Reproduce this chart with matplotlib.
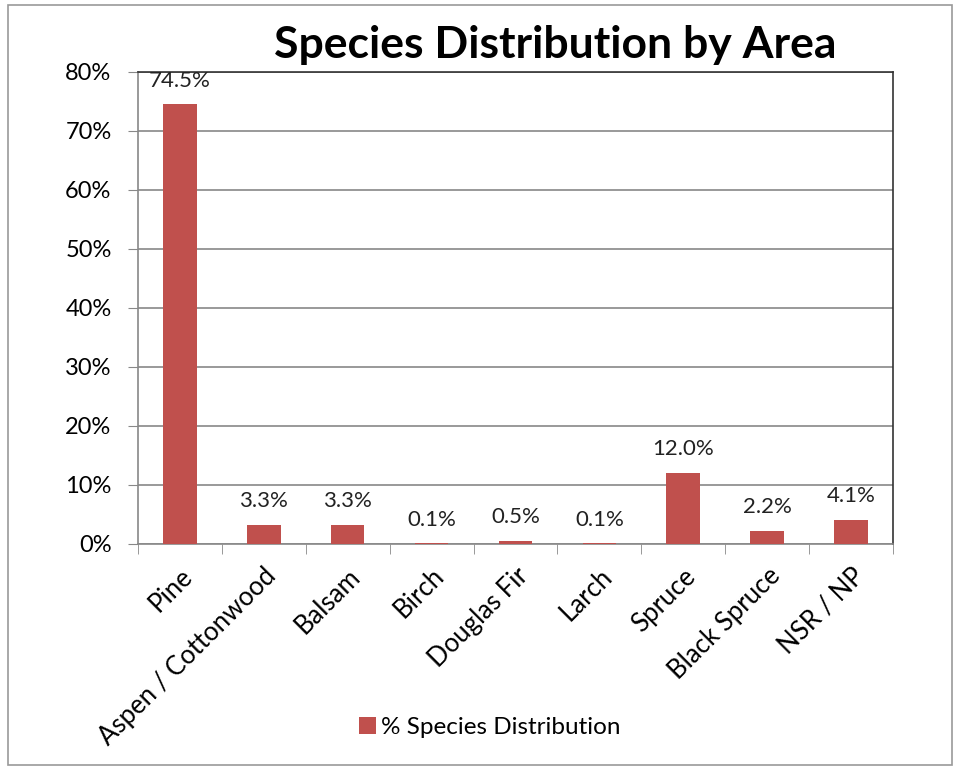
import matplotlib.pyplot as plt
from matplotlib.patches import Rectangle
import numpy as np

# datos
especies = ['Pine', 'Aspen / Cottonwood', 'Balsam', 'Birch', 'Douglas Fir',
            'Larch', 'Spruce', 'Black Spruce', 'NSR / NP']
porcentajes = [74.5, 3.3, 3.3, 0.1, 0.5, 0.1, 12.0, 2.2, 4.1]
yticks = [0, 10, 20, 30, 40, 50, 60, 70, 80]

plt.rcParams['font.family'] = ['Lato', 'DejaVu Sans']

fig = plt.figure(figsize=(9.6, 7.69), dpi=100)
ax = fig.add_axes([0.1437, 0.2926, 0.7865, 0.6138])

x = np.arange(len(especies))
ax.bar(x, porcentajes, width=0.4, color='#C0504D', zorder=3)

for xi, v in zip(x, porcentajes):
    ax.annotate(f'{v:.1f}%', (xi, v), xytext=(0, 10), textcoords='offset points',
                ha='center', va='bottom', fontsize=16, color='#222222')

ax.set_xlim(-0.5, len(especies) - 0.5)
ax.set_ylim(0, 80)
ax.set_yticks(yticks)
ax.set_yticklabels([f'{t}%' for t in yticks], fontsize=17)
ax.yaxis.grid(True, color='#888888', linewidth=1.2, zorder=0)

ax.set_xticks(x)
ax.set_xticklabels(especies, rotation=45, ha='right', rotation_mode='anchor', fontsize=18.5)
ax.set_xticks(np.arange(-0.5, len(especies)), minor=True)
ax.tick_params(axis='x', which='major', length=0, pad=14)
ax.tick_params(axis='x', which='minor', length=7, color='#888888', direction='out')
ax.tick_params(axis='y', length=7, color='#888888', direction='out', pad=12)

for s in ['left', 'bottom']:
    ax.spines[s].set_color('#888888')
    ax.spines[s].set_linewidth(1.2)
for s in ['top', 'right']:
    ax.spines[s].set_color('#333333')
    ax.spines[s].set_linewidth(1.2)

fig.text(0.578, 0.942, 'Species Distribution by Area', ha='center', va='center',
         fontsize=32, fontweight='bold')

ax.legend(['% Species Distribution'], loc='center', bbox_to_anchor=(0.51, 0.0535),
          bbox_transform=fig.transFigure, frameon=False, fontsize=17.5,
          handlelength=0.7, handleheight=0.7, handletextpad=0.2)

fig.patches.append(Rectangle((0.008, 0.005), 0.984, 0.988, transform=fig.transFigure,
                             fill=False, edgecolor='#999999', linewidth=1.2))

plt.savefig('out.png', dpi=100)
